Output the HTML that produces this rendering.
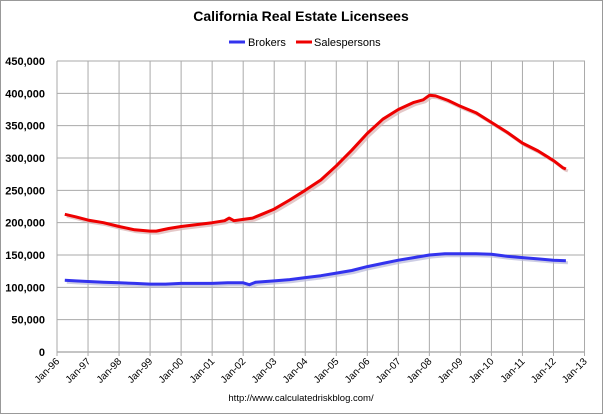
<!DOCTYPE html>
<html><head><meta charset="utf-8"><style>
html,body{margin:0;padding:0;background:#fff}
svg{display:block}
text{font-family:"Liberation Sans",sans-serif}
</style></head><body>
<svg width="603" height="414" viewBox="0 0 603 414" xmlns="http://www.w3.org/2000/svg">
<rect x="0.5" y="0.5" width="602" height="413" fill="#fff" stroke="#999"/>
<text x="301" y="21" text-anchor="middle" font-size="14" font-weight="bold">California Real Estate Licensees</text>
<line x1="229" y1="42" x2="245" y2="42" stroke="#3333ee" stroke-width="3"/>
<text x="248" y="46" font-size="11">Brokers</text>
<line x1="296" y1="42" x2="312" y2="42" stroke="#e00" stroke-width="3"/>
<text x="314" y="46" font-size="11">Salespersons</text>
<g id="grid" stroke="#999" stroke-width="1"></g>
<g id="lab" font-size="11" font-weight="bold"></g>
<g id="xl" font-size="10"></g>
<polyline id="bs" fill="none" stroke="#b8b8d8" stroke-width="3" stroke-linejoin="round" opacity="0.7"/>
<polyline id="ss" fill="none" stroke="#d8b0b0" stroke-width="3" stroke-linejoin="round" opacity="0.7"/>
<polyline id="b" fill="none" stroke="#3333ee" stroke-width="3" stroke-linejoin="round"/>
<polyline id="s" fill="none" stroke="#e00" stroke-width="3" stroke-linejoin="round"/>
<text x="301" y="401" text-anchor="middle" font-size="9.5">http://www.calculatedriskblog.com/</text>
</svg>
<script>
var NS="http://www.w3.org/2000/svg";
function X(t){return 57+31.03*(t-1996);}
function Y(v){return 352-v*0.6467;}
var g=document.getElementById('grid'),lab=document.getElementById('lab'),xl=document.getElementById('xl');
function el(p,n,a,txt){var e=document.createElementNS(NS,n);for(var k in a)e.setAttribute(k,a[k]);if(txt)e.textContent=txt;p.appendChild(e);return e;}
for(var i=0;i<=9;i++){var y=Y(i*50);el(g,'line',{x1:57,x2:585,y1:y,y2:y,stroke:i==0?'#888':'#aaa'});
el(lab,'text',{x:45,y:y+4,'text-anchor':'end'},i==0?'0':(i*50)+',000');}
for(var j=0;j<=17;j++){var x=X(1996+j);el(g,'line',{x1:x,x2:x,y1:Y(450),y2:356,stroke:'#aaa'});
var yr=(96+j)%100;var s='Jan-'+(yr<10?'0':'')+yr;
el(xl,'text',{transform:'translate('+(x+3)+',362) rotate(-45)','text-anchor':'end'},s);}
var S=[[1996.25,213],[1996.6,209],[1997,204],[1997.5,200],[1998,194],[1998.5,189],[1999,187],[1999.2,187],[1999.6,191],[2000,194],[2000.5,197],[2001,200],[2001.4,203],[2001.55,207],[2001.7,203],[2002,205],[2002.3,207],[2002.6,213],[2003,221],[2003.5,235],[2004,250],[2004.5,266],[2005,288],[2005.5,312],[2006,338],[2006.5,360],[2007,375],[2007.5,386],[2007.8,390],[2008,397],[2008.2,396],[2008.6,389],[2009,380],[2009.5,370],[2010,355],[2010.5,340],[2011,323],[2011.5,311],[2011.8,302],[2012,296],[2012.3,285],[2012.4,283]];
var B=[[1996.25,111],[1996.6,110],[1997,109],[1997.5,108],[1998,107],[1998.5,106],[1999,105],[1999.5,105],[2000,106],[2000.5,106],[2001,106],[2001.5,107],[2002,107],[2002.2,104],[2002.4,108],[2003,110],[2003.5,112],[2004,115],[2004.5,118],[2005,122],[2005.5,126],[2006,132],[2006.5,137],[2007,142],[2007.5,146],[2008,150],[2008.5,152],[2009,152],[2009.5,152],[2010,151],[2010.5,148],[2011,146],[2011.5,144],[2012,142],[2012.4,141]];
function pts(a,d){return a.map(function(p){return (X(p[0])+d).toFixed(1)+','+(Y(p[1])+d).toFixed(1)}).join(' ');}
document.getElementById('s').setAttribute('points',pts(S,0));
document.getElementById('b').setAttribute('points',pts(B,0));
document.getElementById('ss').setAttribute('points',pts(S,2));
document.getElementById('bs').setAttribute('points',pts(B,2));
</script>
</body></html>
